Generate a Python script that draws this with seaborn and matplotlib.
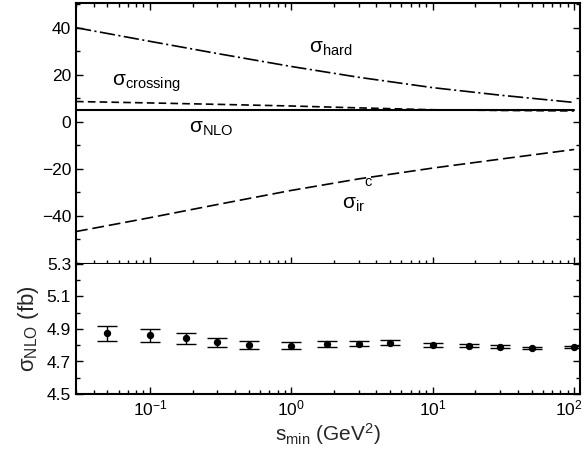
import numpy as np
import pandas as pd
import matplotlib
matplotlib.use("Agg")
import matplotlib.pyplot as plt
import matplotlib.transforms as mtransforms
from matplotlib.ticker import MultipleLocator, LogLocator, NullFormatter, FixedLocator
import seaborn as sns

# ---- data ----
x_curve = [0.03, 0.1, 0.3, 1, 3, 10, 30, 100]
sigma_hard = [40.0, 34.2, 29.0, 23.5, 18.9, 14.5, 11.3, 8.2]
sigma_ir_c = [-46.7, -40.8, -35.2, -29.2, -24.3, -19.7, -15.9, -11.8]
sigma_crossing = [8.6, 8.0, 7.4, 6.7, 5.9, 5.1, 4.8, 4.6]
sigma_nlo_line = [4.9, 4.9, 4.9, 4.9, 4.9, 4.9, 4.9, 4.9]

x_pts = [0.05, 0.1, 0.18, 0.3, 0.5, 1, 1.8, 3, 5, 10, 18, 30, 50, 100]
nlo_pts = [4.874, 4.863, 4.843, 4.818, 4.802, 4.797, 4.808, 4.810, 4.816,
           4.803, 4.797, 4.791, 4.783, 4.787]
nlo_err = [0.047, 0.040, 0.033, 0.029, 0.024, 0.020, 0.017, 0.015, 0.014,
           0.012, 0.008, 0.008, 0.005, 0.006]

x_ticks = [0.1, 1, 10, 100]
x_ticklabels = [r"10$^{-1}$", r"10$^{0}$", r"10$^{1}$", r"10$^{2}$"]
top_yticks = [-40, -20, 0, 20, 40]
bot_yticks = [4.5, 4.7, 4.9, 5.1, 5.3]

sns.set_theme(style="ticks")
plt.rcParams["font.family"] = ["Liberation Sans", "DejaVu Sans"]
plt.rcParams["mathtext.fontset"] = "custom"
plt.rcParams["mathtext.rm"] = "Liberation Sans"
plt.rcParams["mathtext.it"] = "Liberation Sans:italic"
plt.rcParams["mathtext.default"] = "regular"
plt.rcParams["lines.scale_dashes"] = False

fig = plt.figure(figsize=(5.85, 4.53), dpi=100)
L, R = 76 / 585, 580 / 585
ax1 = fig.add_axes([L, 1 - 264 / 453, R - L, (264 - 3) / 453])
ax2 = fig.add_axes([L, 1 - 394 / 453, R - L, (394 - 264) / 453])

curves = pd.DataFrame({"x": x_curve, "hard": sigma_hard, "ir": sigma_ir_c,
                       "cross": sigma_crossing, "nlo": sigma_nlo_line})
sns.lineplot(data=curves, x="x", y="hard", ax=ax1, color="black", lw=1.2,
             linestyle=(0, (11, 2.5, 1.5, 2.5)))
sns.lineplot(data=curves, x="x", y="ir", ax=ax1, color="black", lw=1.2,
             linestyle=(0, (8.5, 3.5)))
sns.lineplot(data=curves, x="x", y="cross", ax=ax1, color="black", lw=1.2,
             linestyle=(0, (5.5, 3)))
sns.lineplot(data=curves, x="x", y="nlo", ax=ax1, color="black", lw=1.5)

pts = pd.DataFrame({"x": x_pts, "y": nlo_pts, "e": nlo_err})
ax2.errorbar(pts["x"], pts["y"], yerr=pts["e"], fmt="none", ecolor="black",
             elinewidth=1.0, capsize=7, capthick=1.0)
sns.scatterplot(data=pts, x="x", y="y", ax=ax2, color="black", s=28,
                edgecolor="black", linewidth=0, zorder=5)

for ax in (ax1, ax2):
    ax.set_xscale("log")
    ax.set_xlim(0.03, 110)
    ax.xaxis.set_major_locator(FixedLocator(x_ticks))
    ax.xaxis.set_minor_locator(LogLocator(base=10, subs=np.arange(2, 10), numticks=20))
    ax.xaxis.set_minor_formatter(NullFormatter())
    ax.set_xlabel("")
    ax.set_ylabel("")
    for s in ax.spines.values():
        s.set_linewidth(1.5)
        s.set_color("black")
    ax.tick_params(which="both", direction="in", right=True, color="black",
                   width=1.0, labelsize=12.5, labelcolor="black")
    ax.tick_params(which="major", length=5)
    ax.tick_params(which="minor", length=3)

ax1.set_ylim(-60.5, 50.5)
ax1.set_yticks(top_yticks)
ax1.set_yticklabels(["\u221240", "\u221220", "0", "20", "40"])
ax1.yaxis.set_minor_locator(MultipleLocator(10))
ax1.tick_params(axis="x", which="both", top=True, bottom=True, labelbottom=False)

ax2.set_ylim(4.5, 5.3)
ax2.set_yticks(bot_yticks)
ax2.set_yticklabels([f"{v:.1f}" for v in bot_yticks])
ax2.yaxis.set_minor_locator(MultipleLocator(0.1))
ax2.set_xticklabels(x_ticklabels)
ax2.tick_params(axis="x", which="both", top=False, bottom=True)
ax2.spines["top"].set_visible(False)

# nudge the last x tick label so it stays inside the canvas
last = ax2.get_xticklabels()[-1]
last.set_transform(last.get_transform() +
                   mtransforms.ScaledTranslation(-5 / 100, 0, fig.dpi_scale_trans))

ax2.set_xlabel(r"s$_{\mathrm{min}}$ (GeV$^{\mathrm{2}}$)", fontsize=15, labelpad=2)
ax2.set_ylabel(r"σ$_{\mathrm{NLO}}$ (fb)", fontsize=16, labelpad=4)

lab = dict(fontsize=15, color="black", va="center", ha="left")
ax1.text(1.34, 31.0, r"σ$_{\mathrm{hard}}$", **lab)
ax1.text(0.0537, 16.5, r"σ$_{\mathrm{crossing}}$", **lab)
ax1.text(0.189, -2.7, r"σ$_{\mathrm{NLO}}$", **lab)
ax1.text(2.3, -35.0, r"σ$_{\mathrm{ir}}$", **lab)
ax1.text(3.3, -25.7, "c", fontsize=10.5, color="black", va="center", ha="left")

fig.savefig("out.png", dpi=100)
